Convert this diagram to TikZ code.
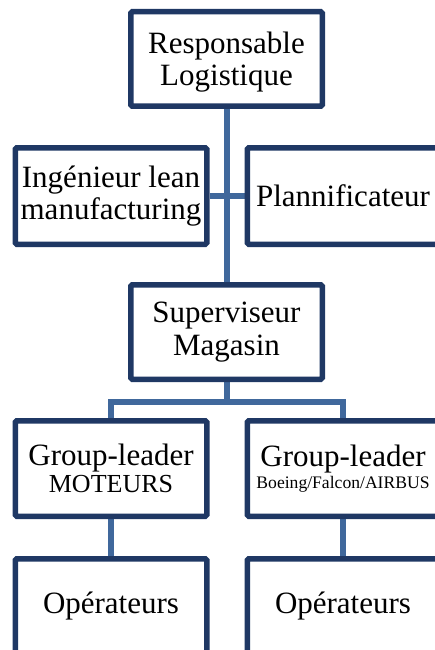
\documentclass[tikz,border=0pt]{standalone}
\usepackage{fontspec}
\setmainfont{Liberation Serif}
\newfontfamily\tms{Liberation Serif}
\usetikzlibrary{backgrounds}
\definecolor{boxc}{RGB}{31,56,100}
\definecolor{linkc}{RGB}{64,104,156}
\begin{document}
\begin{tikzpicture}[
  box/.style={draw=boxc, line width=5.5pt, fill=white, minimum width=191.5pt,
    minimum height=95pt, inner sep=0pt, align=center,
    font=\tms\fontsize{31}{32.5}\selectfont, rounded corners=1.5pt},
  link/.style={draw=linkc, line width=6pt}
]
\useasboundingbox (0,0) rectangle (434pt,-650pt);
\node[box, minimum height=94.5pt] (resp) at (226.5pt,-59pt) {\raisebox{-4pt}[\height][\depth]{\begin{tabular}{@{}c@{}}Responsable\\Logistique\end{tabular}}};
\node[box, minimum height=96.5pt] (ing) at (111pt,-196pt) {Ingénieur lean\\manufacturing};
\node[box, minimum height=96.5pt] (plan) at (343pt,-196pt) {Plannificateur};
\node[box, minimum height=94.5pt] (sup) at (226.5pt,-332pt) {Superviseur\\Magasin};
\node[box, minimum height=95.5pt] (gl1) at (111pt,-468.5pt) {Group-leader\\[-5.5pt]{\fontsize{26}{27}\selectfont MOTEURS}};
\node[box, minimum height=95.5pt] (gl2) at (343pt,-468.5pt) {Group-leader\\[-10.5pt]{\fontsize{17.6}{19}\selectfont Boeing/Falcon/AIRBUS}};
\node[box, minimum height=95.5pt] (op1) at (111pt,-606.5pt) {Opérateurs};
\node[box, minimum height=95.5pt] (op2) at (343pt,-606.5pt) {Opérateurs};
\coordinate (bar) at (226.5pt,-402pt);
\begin{scope}[on background layer]
\draw[link] (resp.south) -- (sup.north);
\draw[link] (ing.east) -- (plan.west);
\draw[link] (sup.south) -- (bar);
\draw[link] (gl1.north) |- (bar) -| (gl2.north);
\draw[link] (gl1.south) -- (op1.north);
\draw[link] (gl2.south) -- (op2.north);
\end{scope}
\end{tikzpicture}
\end{document}
